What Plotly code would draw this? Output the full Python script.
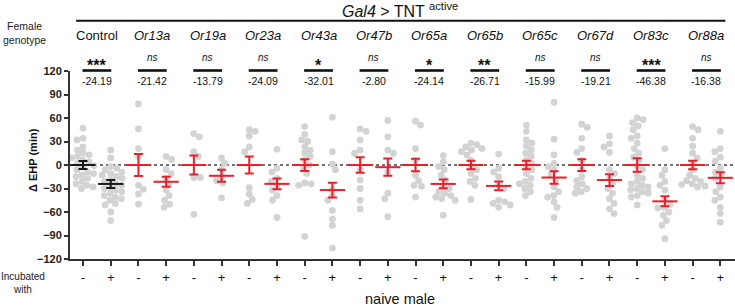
import numpy as np
import plotly.graph_objects as go

# ---------------- data ----------------
genotypes = ["Control", "Or13a", "Or19a", "Or23a", "Or43a", "Or47b",
             "Or65a", "Or65b", "Or65c", "Or67d", "Or83c", "Or88a"]
significance = ["***", "ns", "ns", "ns", "*", "ns", "*", "**", "ns", "ns", "***", "ns"]
differences = ["-24.19", "-21.42", "-13.79", "-24.09", "-32.01", "-2.80",
               "-24.14", "-26.71", "-15.99", "-19.21", "-46.38", "-16.38"]
incubated = ["-", "+"] * 12

control_minus = [47, 34, 32, 23, 19, 15, 13, 11, 9, 6, 4, 2, -1, -3, -6, -9, -11, -13, -15, -17, -21, -24, -26, -28, -30]
control_plus = [19, 9, -2, -4, -6, -9, -11, -13, -15, -17, -19, -21, -24, -26, -28, -30, -32, -34, -36, -39, -41, -43, -45, -49, -51, -60, -71]
or13a_minus = [78, 46, 21, 11, -26, -31, -37, -50]
or13a_plus = [11, 7, -6, -11, -17, -24, -32, -39, -45, -50, -54]
or19a_minus = [40, 36, 17, 11, -16, -16, -63]
or19a_plus = [9, 2, -6, -15, -20, -23, -42]
or23a_minus = [45, 43, 37, 23, 17, -29, -37, -44, -49]
or23a_plus = [20, -4, -9, -17, -21, -26, -32, -39, -45, -67]
or43a_minus = [49, 39, 32, 30, 23, 19, 15, 11, 6, 0, -4, -11, -23, -24, -26, -91]
or43a_plus = [61, 17, 1, -6, -31, -39, -45, -58, -69, -77, -106]
or47b_minus = [46, 43, 32, 19, 15, -6, -19, -30, -45, -56]
or47b_plus = [57, 36, 19, 15, -9, -36, -43, -66]
or65a_minus = [56, 51, 21, 6, -13, -20, -26, -27, -41]
or65a_plus = [12, 4, -2, -6, -13, -19, -28, -30, -34, -36, -39, -41, -43, -45, -64]
or65b_minus = [28, 26, 23, 21, 19, 17, 13, 6, -2, -6, -11, -17, -21, -26, -44]
or65b_plus = [14, -4, -9, -15, -26, -30, -45, -47, -49, -51, -54]
or65c_minus = [51, 43, 32, 28, 24, 19, 15, 11, 6, 2, -2, -6, -11, -17, -21, -24, -26, -30, -34, -39]
or65c_plus = [80, 33, 13, 2, -2, -6, -13, -19, -28, -34, -39, -41, -47, -54, -67]
or67d_minus = [52, 48, 34, 21, 16, 6, -6, -15, -20, -24, -28, -30, -34, -36]
or67d_plus = [37, 27, 23, 16, -6, -11, -17, -24, -30, -36, -43, -49, -56, -62]
or83c_minus = [60, 58, 54, 50, 45, 37, 34, 28, 21, 15, 10, 6, -2, -6, -13, -17, -21, -24, -26, -28, -30, -32, -34, -36, -39, -41, -51]
or83c_plus = [21, -6, -13, -21, -26, -32, -45, -50, -54, -55, -60, -64, -71, -77, -94]
or88a_minus = [49, 45, 34, 24, 15, 9, 2, -6, -13, -17, -20, -21, -24, -25, -27, -28]
or88a_plus = [43, 21, 17, 10, 5, -4, -9, -13, -17, -28, -34, -41, -45, -54, -62, -73]

group_means = [0, -24.19, 0, -21.42, 0, -13.79, 0, -24.09, 0, -32.01, 0, -2.80,
               0, -24.14, 0, -26.71, 0, -15.99, 0, -19.21, 0, -46.38, 0, -16.38]
group_sems = [5, 5.1, 14, 6.4, 12, 7.7, 11, 7, 7.5, 9.5, 10, 11,
              8, 5.6, 5.5, 5.6, 5.5, 8, 7.5, 7.5, 8.5, 6.4, 5.5, 7]

y_ticks = [-120, -90, -60, -30, 0, 30, 60, 90, 120]

groups = [control_minus, control_plus, or13a_minus, or13a_plus, or19a_minus, or19a_plus,
          or23a_minus, or23a_plus, or43a_minus, or43a_plus, or47b_minus, or47b_plus,
          or65a_minus, or65a_plus, or65b_minus, or65b_plus, or65c_minus, or65c_plus,
          or67d_minus, or67d_plus, or83c_minus, or83c_plus, or88a_minus, or88a_plus]

# ---------------- layout geometry ----------------
W, H = 735, 306
ML, MR, MT, MB = 70, 0, 71, 47
PW, PH = W - ML - MR, H - MT - MB
XR = [-0.47, 23.53]
YR = [-120, 120]
XS = PW / (XR[1] - XR[0])   # px per category
YS = PH / (YR[1] - YR[0])   # px per minute
FONT = "Liberation Sans, Arial, sans-serif"
GRAY = "#d3d3d3"
RED = "#e8202a"
BLACK = "#1a1a1a"


def px_x(px):
    return (px - ML) / PW


def px_y(py):
    return (H - MB - py) / PH


def swarm(vals, d=6.2):
    """Beeswarm offsets (in category units) so dots do not overlap."""
    ypx = np.asarray(vals, float) * YS
    order = np.argsort(-ypx)
    placed = []
    offs = np.zeros(len(ypx))
    for n, i in enumerate(order):
        chosen = 0.0
        for k in range(0, 60):
            cands = [0.0] if k == 0 else ([k * 0.5, -k * 0.5] if n % 2 else [-k * 0.5, k * 0.5])
            found = False
            for xo in cands:
                if all((xo - px) ** 2 + (ypx[i] - py) ** 2 >= d * d for px, py in placed):
                    chosen = xo
                    found = True
                    break
            if found:
                break
        placed.append((chosen, ypx[i]))
        offs[i] = chosen / XS
    return offs


fig = go.Figure()

# dots
for gi, vals in enumerate(groups):
    xo = swarm(vals)
    fig.add_trace(go.Scatter(
        x=gi + xo, y=vals, mode="markers",
        marker=dict(size=6.8, color=GRAY, line=dict(width=0)),
        hoverinfo="y", showlegend=False))

# mean + SEM
for gi in range(len(groups)):
    col = BLACK if gi < 2 else RED
    fig.add_trace(go.Scatter(
        x=[gi], y=[group_means[gi]], mode="markers",
        marker=dict(symbol="line-ew", size=18, line=dict(width=2, color=col), color=col),
        error_y=dict(type="data", array=[group_sems[gi]], visible=True,
                     color=col, thickness=2, width=4.5),
        showlegend=False, hoverinfo="y"))

shapes = []
# zero reference line
shapes.append(dict(type="line", xref="paper", yref="y", x0=0, x1=1, y0=0, y1=0,
                   line=dict(color="#444", width=1.5, dash="dot"), layer="below"))
# long header line
shapes.append(dict(type="line", xref="x", yref="paper", x0=-0.25, x1=23.18,
                   y0=px_y(20.7), y1=px_y(20.7), line=dict(color="#111", width=2)))

annotations = []
annotations.append(dict(xref="paper", yref="paper", x=px_x(400), y=px_y(10),
                        text="<i>Gal4</i> > TNT <sup>active</sup>", showarrow=False,
                        font=dict(size=16, color="#111"), xanchor="center", yanchor="middle"))
annotations.append(dict(xref="paper", yref="paper", x=px_x(24), y=px_y(33),
                        text="Female<br>genotype", showarrow=False,
                        font=dict(size=10.5, color="#222"), xanchor="center", yanchor="middle"))

for k, g in enumerate(genotypes):
    c = 2 * k + 0.5
    label = g if g == "Control" else "<i>" + g + "</i>"
    annotations.append(dict(xref="x", yref="paper", x=c, y=px_y(35), text=label,
                            showarrow=False, font=dict(size=13, color="#111"),
                            xanchor="center", yanchor="middle"))
    s = significance[k]
    if s == "ns":
        annotations.append(dict(xref="x", yref="paper", x=c, y=px_y(57.5), text="<i>ns</i>",
                                showarrow=False, font=dict(size=10, color="#111"),
                                xanchor="center", yanchor="middle"))
    else:
        annotations.append(dict(xref="x", yref="paper", x=c, y=px_y(65.5), text="<b>" + s + "</b>",
                                showarrow=False, font=dict(size=16, color="#111"),
                                xanchor="center", yanchor="middle"))
    shapes.append(dict(type="line", xref="x", yref="paper", x0=c - 0.52, x1=c + 0.52,
                       y0=px_y(70.5), y1=px_y(70.5), line=dict(color="#111", width=2.6)))
    annotations.append(dict(xref="x", yref="paper", x=c, y=px_y(81), text=differences[k],
                            showarrow=False, font=dict(size=10.5, color="#111"),
                            xanchor="center", yanchor="middle"))

annotations.append(dict(xref="paper", yref="paper", x=px_x(33), y=px_y(160),
                        text="<b>Δ EHP (min)</b>", textangle=-90, showarrow=False,
                        font=dict(size=11, color="#111"), xanchor="center", yanchor="middle"))
annotations.append(dict(xref="paper", yref="paper", x=px_x(23), y=px_y(283),
                        text="Incubated<br>with", showarrow=False,
                        font=dict(size=10, color="#222"), xanchor="center", yanchor="middle"))
annotations.append(dict(xref="paper", yref="paper", x=px_x(400), y=px_y(299),
                        text="naive male", showarrow=False,
                        font=dict(size=14.5, color="#111"), xanchor="center", yanchor="middle"))

fig.update_layout(
    width=W, height=H,
    margin=dict(l=ML, r=MR, t=MT, b=MB, pad=0),
    plot_bgcolor="white", paper_bgcolor="white",
    font=dict(family=FONT, color="#222"),
    showlegend=False,
    shapes=shapes, annotations=annotations,
    xaxis=dict(range=XR, tickmode="array", tickvals=list(range(24)), ticktext=incubated,
               ticks="outside", ticklen=5, tickwidth=1.5, tickcolor="#333",
               showline=True, linewidth=2, linecolor="#333", showgrid=False, zeroline=False,
               tickfont=dict(size=13, color="#111"), automargin=False),
    yaxis=dict(range=YR, tickmode="array", tickvals=y_ticks,
               ticks="outside", ticklen=4, tickwidth=1.5, tickcolor="#333",
               showline=True, linewidth=2, linecolor="#333", showgrid=False, zeroline=False,
               tickfont=dict(size=11, color="#222", weight="bold"), automargin=False),
)

fig.write_html("out.html", config={"displayModeBar": False},
               post_script="document.body.style.margin='0';document.body.style.padding='0';")
